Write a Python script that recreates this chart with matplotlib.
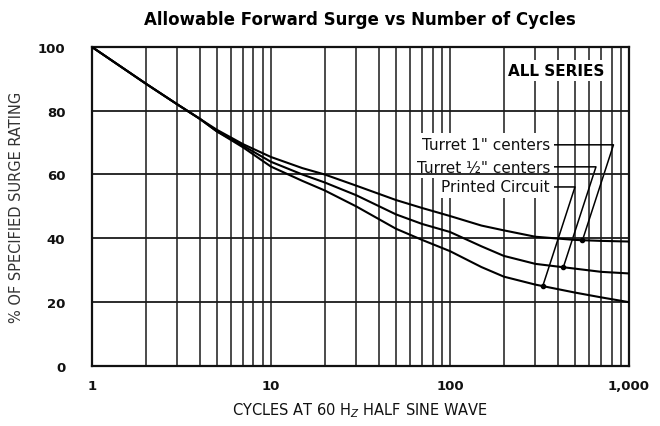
import numpy as np
import matplotlib
matplotlib.use("Agg")
import matplotlib.pyplot as plt
from matplotlib.ticker import FixedLocator, NullFormatter

# values
cycles = [1, 2, 3, 4, 5, 7, 10, 15, 20, 30, 50, 70, 100, 150, 200, 300, 500, 700, 1000]
turret_1 = [100, 88.5, 82, 77.5, 74, 69.5, 65.5, 62, 60, 56.5, 52, 49.5, 47, 44, 42.5, 40.5, 39.5, 39.2, 39]
turret_half = [100, 88.5, 82, 77.5, 73.5, 69, 64, 60, 57.5, 53.5, 47.5, 44.5, 42, 37.5, 34.5, 32, 30.5, 29.5, 29]
printed = [100, 88.5, 82, 77.5, 73.5, 68.5, 62.5, 58, 55, 50, 43, 39.5, 36, 31, 28, 25.5, 23, 21.5, 20]

labels = ['Turret 1" centers', 'Turret \u00bd" centers', 'Printed Circuit']
label_at = [550, 430, 330]        # cycle value where each leader touches its curve
label_y = [69.3, 62.4, 56.1]

xticks = [1, 10, 100, 1000]
xticklabels = ['1', '10', '100', '1,000']
yticks = [0, 20, 40, 60, 80, 100]

fig = plt.figure(figsize=(6.6, 4.27), dpi=100)
ax = fig.add_axes([0.139, 0.1405, 0.814, 0.7475])
ax.set_xscale('log')
ax.set_xlim(1, 1000)
ax.set_ylim(0, 100)

minor = [m * d for d in (1, 10, 100) for m in range(2, 10)]
for v in minor + [10, 100]:
    ax.axvline(v, color='#1a1a1a', lw=1.1, zorder=1)
for v in yticks[1:-1]:
    ax.axhline(v, color='#1a1a1a', lw=1.3, zorder=2.5)

for s in (turret_1, turret_half, printed):
    ax.plot(cycles, s, color='black', lw=1.5, zorder=3)

for s, lab, xa, ly in zip((turret_1, turret_half, printed), labels, label_at, label_y):
    ya = np.interp(np.log10(xa), np.log10(cycles), s)
    ax.annotate(lab, xy=(xa, ya), xytext=(362, ly), textcoords='data',
                ha='right', va='center', fontsize=11, color='#111',
                bbox=dict(boxstyle='square,pad=0.25', fc='white', ec='none'),
                arrowprops=dict(arrowstyle='-', color='black', lw=1.1,
                                relpos=(1, 0.5), shrinkA=0, shrinkB=0,
                                connectionstyle='angle,angleA=0,angleB=72,rad=0'),
                zorder=2)
    ax.plot(xa, ya, 'o', color='black', ms=3, zorder=5)

ax.text(0.955, 0.925, 'ALL SERIES', transform=ax.transAxes, ha='right', va='center',
        fontsize=11, fontweight='bold',
        bbox=dict(boxstyle='square,pad=0.2', fc='white', ec='none'), zorder=2)

ax.xaxis.set_major_locator(FixedLocator(xticks))
ax.xaxis.set_minor_formatter(NullFormatter())
ax.set_xticks(xticks, xticklabels)
ax.set_yticks(yticks)
ax.tick_params(axis='both', which='both', length=0, labelsize=9.5, colors='#111')
ax.tick_params(axis='x', pad=9)
ax.tick_params(axis='y', pad=19)
for lbl in ax.get_xticklabels() + ax.get_yticklabels():
    lbl.set_fontweight('semibold')
for sp in ax.spines.values():
    sp.set_linewidth(1.6)
    sp.set_color('#111')

ax.set_xlabel('CYCLES AT 60 H$_Z$ HALF SINE WAVE', fontsize=10.5, labelpad=6, color='#111')
ax.set_ylabel('% OF SPECIFIED SURGE RATING', fontsize=10.5, labelpad=10, color='#333')
fig.suptitle('Allowable Forward Surge vs Number of Cycles', x=0.545, y=0.975,
             fontsize=12, fontweight='bold')

fig.savefig('out.png', dpi=100)
